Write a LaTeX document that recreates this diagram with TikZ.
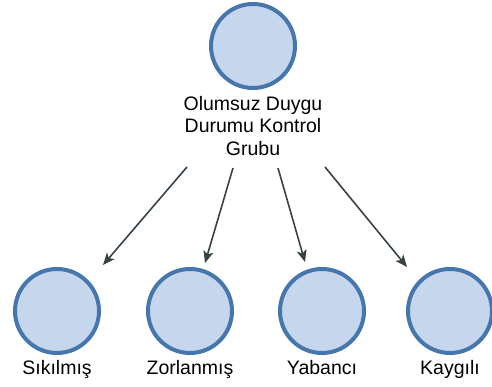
\documentclass[tikz,border=0pt]{standalone}
\usepackage{fontspec}
\setmainfont{Liberation Sans}
\usetikzlibrary{arrows.meta,positioning}
\definecolor{ringblue}{HTML}{4676AE}
\definecolor{fillblue}{HTML}{C6D6EC}
\definecolor{arrowgray}{HTML}{36443F}
\tikzstyle{grp}=[circle,draw=ringblue,fill=fillblue,line width=4pt,minimum size=84pt,inner sep=0pt]
\tikzstyle{lbl}=[font=\fontsize{19.5}{22.5}\selectfont,align=center,inner sep=0pt]
\tikzstyle{pull}=[-{Stealth[length=12pt,width=10pt,inset=3pt]},draw=arrowgray,line width=1.6pt]

\begin{document}
\begin{tikzpicture}[x=1pt,y=1pt]
\useasboundingbox (0,0) rectangle (492,387);
\node[grp] (ctrl) at (253,341) {};
\node[lbl,below=6pt of ctrl] (ctrltxt) {Olumsuz Duygu\\Durumu Kontrol\\Grubu};
\node[grp] (sik) at (57,76) {};
\node[grp] (zor) at (190,76) {};
\node[grp] (yab) at (322,76) {};
\node[grp] (kay) at (450,76) {};
\node[lbl,below=5pt of sik] (siktxt) {Sıkılmış};
\node[lbl,below=5pt of zor] (zortxt) {Zorlanmış};
\node[lbl,below=5pt of yab] (yabtxt) {Yabancı};
\node[lbl,below=5pt of kay] (kaytxt) {Kaygılı};
\coordinate (s1) at (187,220); \coordinate (e1) at (103,122);
\coordinate (s2) at (233,219); \coordinate (e2) at (205,124);
\coordinate (s3) at (278,219); \coordinate (e3) at (305,125);
\coordinate (s4) at (325,220); \coordinate (e4) at (407,120);
\draw[pull] (s1)--(e1);\draw[pull] (s2)--(e2);
\draw[pull] (s3)--(e3);\draw[pull] (s4)--(e4);
\end{tikzpicture}
\end{document}
